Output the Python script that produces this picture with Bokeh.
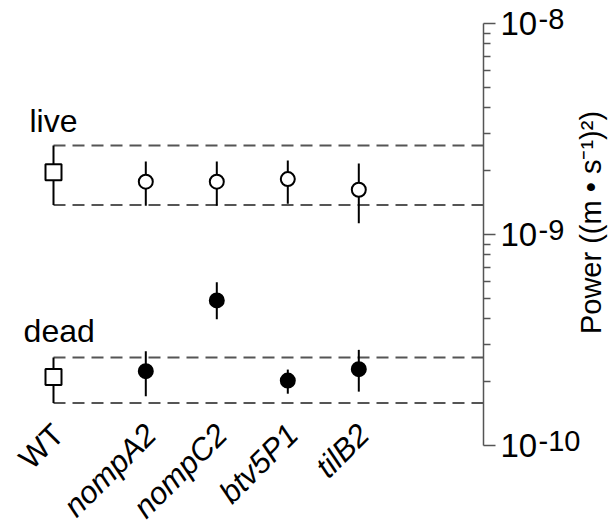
import numpy as np
from bokeh.plotting import figure
from bokeh.models import Range1d, FixedTicker, ColumnDataSource, LogAxis, LogScale
from bokeh.core.properties import value
from bokeh.embed import file_html
from bokeh.resources import INLINE

# ---------------- data ----------------
strains = ["WT", "nompA2", "nompC2", "btv5P1", "tilB2"]
strain_styles = ["normal", "italic", "italic", "italic", "italic"]
groups = ["live", "dead"]

live_mean = [1.97e-9, 1.78e-9, 1.78e-9, 1.83e-9, 1.63e-9]
live_low = [1.38e-9, 1.37e-9, 1.37e-9, 1.40e-9, 1.13e-9]
live_high = [2.64e-9, 2.22e-9, 2.22e-9, 2.24e-9, 2.17e-9]

dead_mean = [2.11e-10, 2.25e-10, 4.87e-10, 2.03e-10, 2.30e-10]
dead_low = [1.59e-10, 1.71e-10, 3.97e-10, 1.76e-10, 1.80e-10]
dead_high = [2.61e-10, 2.80e-10, 5.94e-10, 2.29e-10, 2.84e-10]

y_major = [1e-10, 1e-9, 1e-8]
y_major_base = ["10", "10", "10"]
y_major_exp = ["-10", "-9", "-8"]
y_title = ["Power ((m \u2022 s\u207b\u00b9)\u00b2)"]

# ---------------- layout (pixels) ----------------
FONT = "Liberation Sans"
W, H = 614, 528
AX_X, AX_TOP = 483, 23          # axis line x, pixel of the top decade
px_per_decade = 211.0
px_per_unit = 71.0
WT_X = 53

y_end = 10 ** (np.log10(y_major[-1]) + AX_TOP / px_per_decade)
y_start = 10 ** (np.log10(y_end) - H / px_per_decade)
x_start = -WT_X / px_per_unit
x_end = x_start + W / px_per_unit
x_axis_at = x_start + AX_X / px_per_unit


def px_to_y(py):
    return 10 ** (np.log10(y_end) - py / px_per_decade)


def px_to_x(px):
    return x_start + px / px_per_unit


n = len(strains)
idx = np.arange(n)
x_pos = idx + 0.3 * (idx > 0)   # extra gap after WT
x_wt = float(x_pos[0])

p = figure(width=W, height=H,
           x_range=Range1d(x_start, x_end), y_range=Range1d(y_start, y_end),
           y_axis_type="log", y_axis_location="right", x_axis_location=None,
           output_backend="svg", toolbar_location=None,
           min_border=0, outline_line_color=None, background_fill_color="white")
p.grid.visible = False

# ---------------- y axis (drawn at a fixed x inside the frame) ----------------
ax = p.yaxis[0]
minor = [m * 10.0 ** e for e in (-10, -9) for m in range(2, 10)]
ax.fixed_location = x_axis_at
ax.ticker = FixedTicker(ticks=y_major, minor_ticks=minor)
ax.bounds = (y_major[0], y_major[-1])
ax.major_label_overrides = {t: s for t, s in zip(y_major, y_major_base)}
ax.axis_line_color = "#555555"
ax.axis_line_width = 1.5
ax.major_tick_line_color = "#555555"
ax.minor_tick_line_color = "#555555"
ax.major_tick_line_width = 1.5
ax.minor_tick_line_width = 1.5
ax.major_tick_in = 0
ax.major_tick_out = 12
ax.minor_tick_in = 0
ax.minor_tick_out = 7
ax.major_label_standoff = 5
ax.major_label_text_font = FONT
ax.major_label_text_font_size = "33px"
ax.major_label_text_color = "black"

# exponents: a label-only axis whose range is shifted so they sit a bit higher
raise_px = 5
f = 10 ** (raise_px / px_per_decade)
p.extra_y_ranges = {"exp": Range1d(y_start / f, y_end / f)}
p.extra_y_scales = {"exp": LogScale()}
eax = LogAxis(y_range_name="exp", fixed_location=x_axis_at,
              ticker=FixedTicker(ticks=y_major),
              major_label_overrides={t: s for t, s in zip(y_major, y_major_exp)},
              axis_line_color=None, major_tick_line_color=None,
              minor_tick_line_color=None, major_tick_out=0, major_tick_in=0,
              minor_tick_out=0, minor_tick_in=0, major_label_standoff=55,
              major_label_text_font=FONT, major_label_text_font_size="29px",
              major_label_text_color="black")
p.add_layout(eax, "right")

# axis title, reading bottom-to-top
p.text(x=[px_to_x(590)], y=[px_to_y(222)], text=y_title, angle=np.pi / 2,
       text_align="center", text_baseline="middle",
       text_font=value(FONT), text_font_size="29px", text_color="black")

# ---------------- WT reference bands (dashed) ----------------
band_src = ColumnDataSource(dict(
    x0=[x_wt] * 4, x1=[x_axis_at] * 4,
    y=[live_high[0], live_low[0], dead_high[0], dead_low[0]]))
p.segment(x0="x0", y0="y", x1="x1", y1="y", source=band_src,
          line_color="#555555", line_width=2, line_dash="12 7")

# ---------------- error bars ----------------
for lo, hi in ((live_low, live_high), (dead_low, dead_high)):
    p.segment(x0=x_pos, y0=lo, x1=x_pos, y1=hi, line_color="black", line_width=2)

# ---------------- markers ----------------
p.scatter(x=[x_wt, x_wt], y=[live_mean[0], dead_mean[0]], marker="square",
          size=16, fill_color="white", line_color="black", line_width=2)
p.scatter(x=x_pos[1:], y=live_mean[1:], marker="circle", size=14,
          fill_color="white", line_color="black", line_width=2)
p.scatter(x=x_pos[1:], y=dead_mean[1:], marker="circle", size=14,
          fill_color="black", line_color="black", line_width=2)

# ---------------- group labels ----------------
grp_src = ColumnDataSource(dict(x=[x_wt, x_wt + 0.08],
                                y=[live_high[0], dead_high[0]],
                                text=groups, dy=[-25, -27]))
p.text(x="x", y="y", text="text", source=grp_src,
       text_align="center", text_baseline="alphabetic", y_offset="dy",
       text_font=value(FONT), text_font_size="32px", text_color="black")

# ---------------- strain labels ----------------
lab_src = ColumnDataSource(dict(x=x_pos, y=[y_major[0]] * n, text=strains,
                                style=strain_styles))
p.text(x="x", y="y", text="text", source=lab_src, angle=np.pi / 4,
       text_align="right", text_baseline="middle", x_offset=5, y_offset=-16,
       text_font=value(FONT), text_font_size="31px", text_font_style="style",
       text_color="black")

open("out.html", "w").write(file_html(p, INLINE))
